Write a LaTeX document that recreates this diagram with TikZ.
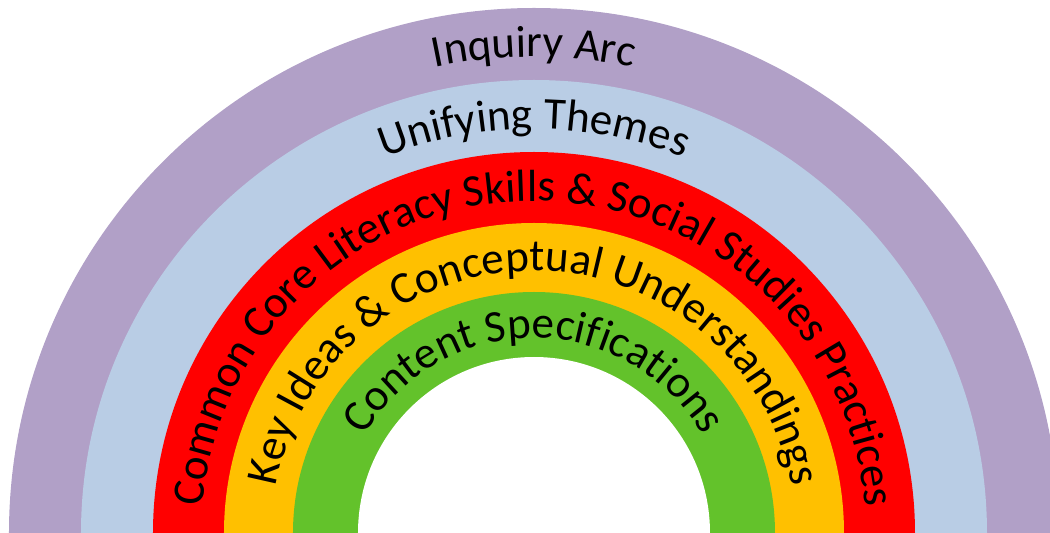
\documentclass[tikz,border=0pt]{standalone}
\usepackage{fontspec}
\usetikzlibrary{decorations.text}
\newfontfamily\carlito{Carlito}
\newcommand{\bandfont}{\carlito\fontsize{45}{54}\selectfont}

\definecolor{inquiry}{HTML}{B1A0C7}
\definecolor{themes}{HTML}{B9CDE5}
\definecolor{literacy}{HTML}{FF0000}
\definecolor{ideas}{HTML}{FFC000}
\definecolor{content}{HTML}{63C22B}

\tikzset{
  bandtext/.style={decorate, decoration={text along path, text align=center, text={|\bandfont|#1}}}
}

\begin{document}
\begin{tikzpicture}[x=1pt,y=1pt]
\useasboundingbox (-534,0) rectangle (516,533);

\fill[inquiry] (-525,0) arc (180:0:525) -- cycle;
\fill[themes] (-453,0) arc (180:0:453) -- cycle;
\fill[literacy] (-381,0) arc (180:0:381) -- cycle;
\fill[ideas] (-310,0) arc (180:0:310) -- cycle;
\fill[content] (-241,0) arc (180:0:241) -- cycle;
\fill[white] (-176,0) arc (180:0:176) -- cycle;

\path[bandtext={Inquiry Arc}] (-476,0) arc (180:0:476);
\path[bandtext={Unifying Themes}] (-404,0) arc (180:0:404);
\path[bandtext={Common Core Literacy Skills {\&} Social Studies Practices}] (-332,0) arc (180:0:332);
\path[bandtext={Key Ideas {\&} Conceptual Understandings}] (-262,0) arc (180:0:262);
\path[bandtext={Content Specifications}] (-195,0) arc (180:0:195);
\end{tikzpicture}
\end{document}
